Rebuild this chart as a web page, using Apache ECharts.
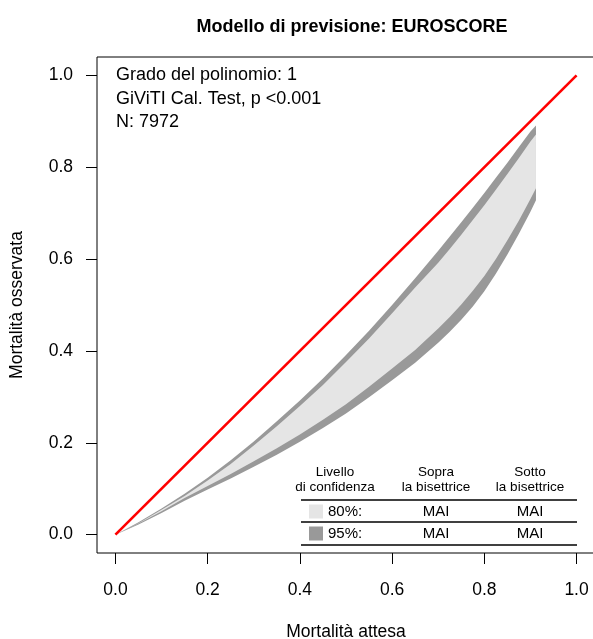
<!DOCTYPE html>
<html>
<head>
<meta charset="utf-8">
<script src="https://cdn.jsdelivr.net/npm/echarts@6/dist/echarts.min.js"></script>
<style>
html,body{margin:0;padding:0;background:#fff;}
#chart{width:593px;height:639px;}
</style>
</head>
<body>
<div id="chart"></div>
<script>
// ---- data ----
const expected = [0, 0.05, 0.1, 0.15, 0.2, 0.25, 0.3, 0.35, 0.4, 0.45, 0.5, 0.55, 0.6, 0.65, 0.7, 0.725, 0.75, 0.775, 0.8, 0.825, 0.85, 0.875, 0.9, 0.912];
const upper95 = [0, 0.027, 0.057, 0.089, 0.124, 0.162, 0.203, 0.247, 0.292, 0.340, 0.391, 0.444, 0.500, 0.558, 0.618, 0.649, 0.680, 0.712, 0.744, 0.777, 0.810, 0.844, 0.878, 0.891];
const upper80 = [0, 0.025, 0.054, 0.084, 0.118, 0.154, 0.194, 0.236, 0.280, 0.326, 0.376, 0.427, 0.482, 0.538, 0.592, 0.622, 0.653, 0.685, 0.717, 0.751, 0.785, 0.820, 0.856, 0.871];
const lower80 = [0, 0.024, 0.051, 0.080, 0.106, 0.132, 0.160, 0.188, 0.218, 0.250, 0.284, 0.322, 0.362, 0.402, 0.449, 0.474, 0.501, 0.531, 0.563, 0.600, 0.641, 0.684, 0.731, 0.754];
const lower95 = [0, 0.022, 0.047, 0.074, 0.098, 0.122, 0.148, 0.174, 0.202, 0.232, 0.264, 0.299, 0.336, 0.374, 0.418, 0.442, 0.468, 0.497, 0.530, 0.568, 0.610, 0.655, 0.703, 0.728];
const bisector = [[0, 0], [1, 1]];
const tickValues = [0, 0.2, 0.4, 0.6, 0.8, 1.0];
const titleText = 'Modello di previsione: EUROSCORE';
const xName = 'Mortalità attesa';
const yName = 'Mortalità osservata';
const infoLines = ['Grado del polinomio: 1', 'GiViTI Cal. Test, p <0.001', 'N: 7972'];
const tableHeader = [['Livello', 'di confidenza'], ['Sopra', 'la bisettrice'], ['Sotto', 'la bisettrice']];
const tableRows = [['80%:', 'MAI', 'MAI'], ['95%:', 'MAI', 'MAI']];

const FONT = '"Liberation Sans", Arial, Helvetica, sans-serif';
const band95 = expected.map((v, i) => [v, lower95[i], upper95[i]]);
const band80 = expected.map((v, i) => [v, lower80[i], upper80[i]]);

function bandRenderer(color) {
  return function (params, api) {
    if (params.dataIndex !== 0) return;
    const n = params.dataInsideLength;
    const top = [], bot = [];
    for (let i = 0; i < n; i++) {
      top.push(api.coord([api.value(0, i), api.value(2, i)]));
      bot.push(api.coord([api.value(0, i), api.value(1, i)]));
    }
    return {
      type: 'polygon',
      shape: { points: top.concat(bot.reverse()) },
      style: { fill: color, stroke: null }
    };
  };
}

function txt(text, x, y, size, align, weight) {
  return {
    type: 'text', silent: true,
    style: {
      text: text, x: x, y: y,
      font: (weight || 'normal') + ' ' + size + 'px ' + FONT,
      fill: '#000',
      align: align, textAlign: align,
      verticalAlign: 'middle', textVerticalAlign: 'middle'
    }
  };
}
function hline(x1, x2, y) {
  return { type: 'line', silent: true, shape: { x1: x1, y1: y, x2: x2, y2: y }, style: { stroke: '#000', lineWidth: 1.5 } };
}

const graphics = [];
infoLines.forEach((t, i) => graphics.push(txt(t, 116, 75.5 + i * 23.5, 18, 'left')));
const colX = [335, 436, 530];
tableHeader.forEach((h, i) => {
  graphics.push(txt(h[0], colX[i], 472.5, 13.5, 'center'));
  graphics.push(txt(h[1], colX[i], 487, 13.5, 'center'));
});
graphics.push(hline(301, 577, 500));
graphics.push(hline(301, 577, 522));
graphics.push(hline(301, 577, 545));
const swatchColors = ['#E5E5E5', '#999999'];
const rowY = [511.5, 533.5];
tableRows.forEach((r, i) => {
  graphics.push({ type: 'rect', silent: true, shape: { x: 309, y: rowY[i] - 7, width: 14, height: 14 }, style: { fill: swatchColors[i] } });
  graphics.push(txt(r[0], 328, rowY[i], 15, 'left'));
  graphics.push(txt(r[1], colX[1], rowY[i], 15, 'center'));
  graphics.push(txt(r[2], colX[2], rowY[i], 15, 'center'));
});

const chart = echarts.init(document.getElementById('chart'), null, { renderer: 'canvas' });
const axisCommon = {
  type: 'value', min: -0.04, max: 1.04,
  splitLine: { show: false },
  axisLine: { show: false, onZero: false },
  axisTick: { show: true, length: 11, inside: false, customValues: tickValues, lineStyle: { color: '#000', width: 1 } },
  axisLabel: { customValues: tickValues, color: '#000', fontSize: 17.5, fontFamily: FONT, formatter: v => Number(v).toFixed(1) },
  nameLocation: 'middle',
  nameTextStyle: { color: '#000', fontSize: 17.5, fontFamily: FONT }
};
chart.setOption({
  animation: false,
  backgroundColor: '#fff',
  title: {
    text: titleText, left: 347, top: 13, textAlign: 'center',
    textStyle: { fontSize: 18, fontWeight: 'bold', fontFamily: FONT, color: '#000' }
  },
  grid: { left: 97, top: 57, width: 498, height: 496, show: true, borderColor: '#000', borderWidth: 1, backgroundColor: 'transparent', containLabel: false, outerBoundsMode: 'none' },
  xAxis: Object.assign({}, axisCommon, { name: xName, nameGap: 70, axisLabel: Object.assign({}, axisCommon.axisLabel, { margin: 28 }) }),
  yAxis: Object.assign({}, axisCommon, { name: yName, nameGap: 71, axisLabel: Object.assign({}, axisCommon.axisLabel, { margin: 24 }) }),
  series: [
    { type: 'custom', silent: true, renderItem: bandRenderer('#999999'), data: band95, encode: { x: 0, y: [1, 2] }, z: 1 },
    { type: 'custom', silent: true, renderItem: bandRenderer('#E5E5E5'), data: band80, encode: { x: 0, y: [1, 2] }, z: 2 },
    { type: 'line', silent: true, data: bisector, symbol: 'none', lineStyle: { color: '#FF0000', width: 2.6 }, z: 3 }
  ],
  graphic: graphics
});
</script>
</body>
</html>
